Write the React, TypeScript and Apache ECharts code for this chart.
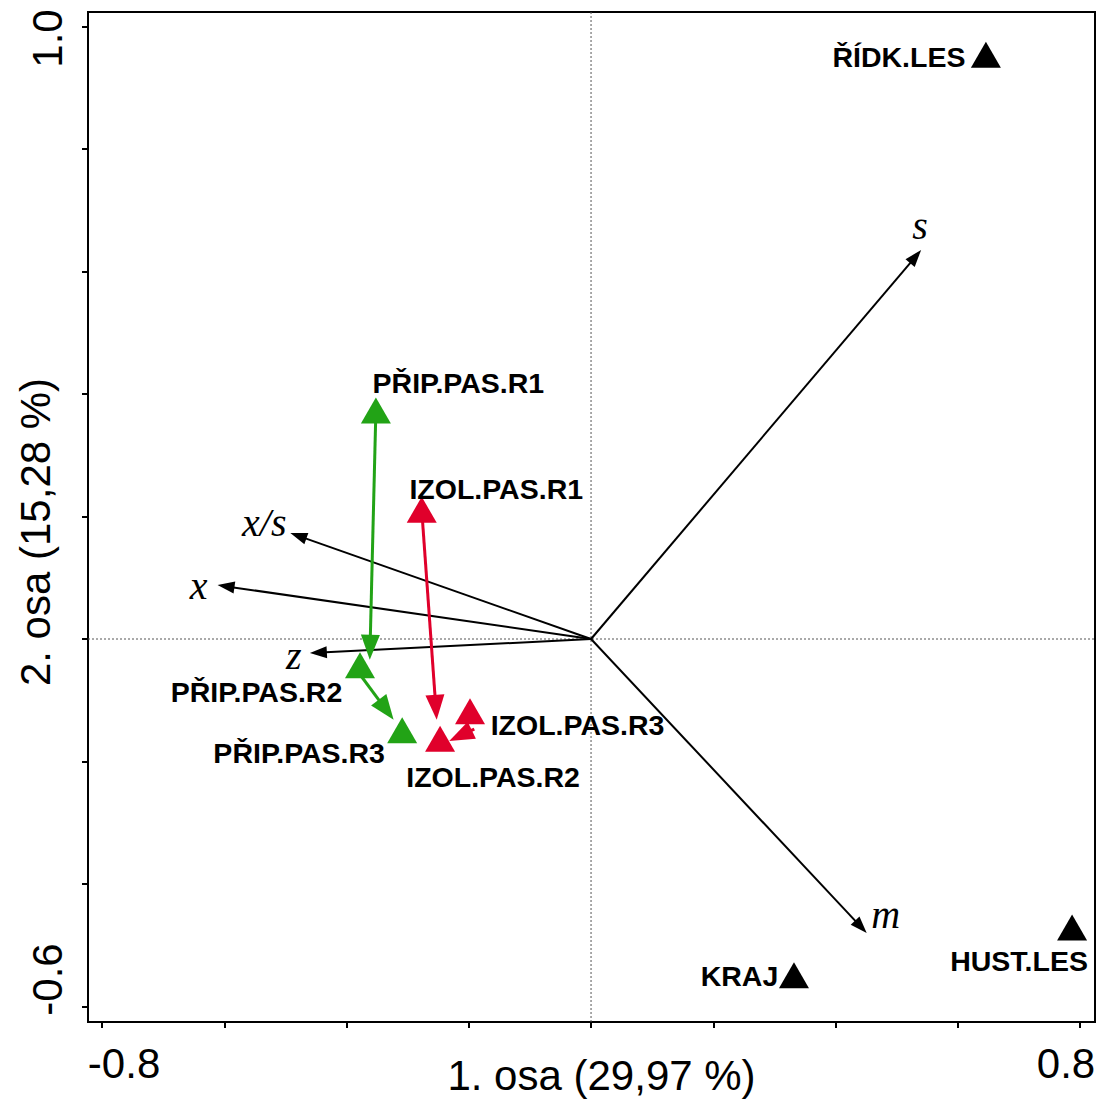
import { useEffect, useRef } from 'react';
import * as echarts from 'echarts';

// ---------- data ----------
const xTicks = [-0.8, -0.6, -0.4, -0.2, 0, 0.2, 0.4, 0.6, 0.8];
const yTicks = [-0.6, -0.4, -0.2, 0, 0.2, 0.4, 0.6, 0.8, 1.0];
const xTickLabels = [-0.8, 0.8];
const yTickLabels = [-0.6, 1.0];
const xTitle = '1. osa (29,97 %)';
const yTitle = '2. osa (15,28 %)';

const sampleNames = ['ŘÍDK.LES', 'HUST.LES', 'KRAJ', 'PŘIP.PAS.R1', 'PŘIP.PAS.R2', 'PŘIP.PAS.R3', 'IZOL.PAS.R1', 'IZOL.PAS.R2', 'IZOL.PAS.R3'];
const sampleX = [0.646, 0.787, 0.332, -0.352, -0.378, -0.309, -0.277, -0.247, -0.198];
const sampleY = [0.954, -0.471, -0.549, 0.373, -0.043, -0.149, 0.211, -0.163, -0.118];
const sampleGroup = ['hab', 'hab', 'hab', 'prip', 'prip', 'prip', 'izol', 'izol', 'izol'];

const envNames = ['s', 'm', 'x/s', 'x', 'z'];
const envX = [0.540, 0.451, -0.492, -0.611, -0.460];
const envY = [0.635, -0.480, 0.173, 0.088, -0.023];

// trajectory arrows (from -> to)
const pripFromX = [-0.352, -0.375];
const pripFromY = [0.373, -0.062];
const pripToX = [-0.362, -0.323];
const pripToY = [-0.034, -0.132];

const izolFromX = [-0.277, -0.191];
const izolFromY = [0.211, -0.147];
const izolToX = [-0.2525, -0.232];
const izolToY = [-0.132, -0.1665];

// ---------- styles / layout ----------
const X_MIN = -0.823;
const X_MAX = 0.8245;
const Y_MIN = -0.6253;
const Y_MAX = 1.0237;
const SANS = '"Liberation Sans", Arial, sans-serif';
const SERIF = '"Liberation Serif", "Times New Roman", serif';
const groupColors: Record<string, string> = { hab: '#000000', prip: '#22A316', izol: '#E0002B' };
const sampleLabelOffsets = [
  [-87, 2.5], [-53, 33.5], [-54.5, 0.5], [82.5, -27.5], [-103.5, 26.5], [-103, 22.5], [74.5, -20.5], [53, 38], [107.5, 14],
];
const envLabelOffsets = [[-1, -25], [19, -19], [-26, -11], [-19, 0.5], [-16, 2]];

function makeArrowRenderer(color: string, lineWidth: number, headLen: number, headHalf: number, labels?: string[], offsets?: number[][]) {
  return (params: any, api: any) => {
    const p0 = api.coord([api.value(0), api.value(1)]);
    const p1 = api.coord([api.value(2), api.value(3)]);
    const dx = p1[0] - p0[0];
    const dy = p1[1] - p0[1];
    const len = Math.hypot(dx, dy) || 1;
    const ux = dx / len;
    const uy = dy / len;
    const hl = Math.min(headLen, len);
    const bx = p1[0] - ux * hl;
    const by = p1[1] - uy * hl;
    const nx = -uy;
    const ny = ux;
    const children: any[] = [];
    if (len > hl + 0.5) {
      children.push({
        type: 'line',
        shape: { x1: p0[0], y1: p0[1], x2: bx + ux, y2: by + uy },
        style: { stroke: color, lineWidth },
      });
    }
    children.push({
      type: 'polygon',
      shape: { points: [[p1[0], p1[1]], [bx + nx * headHalf, by + ny * headHalf], [bx - nx * headHalf, by - ny * headHalf]] },
      style: { fill: color },
    });
    if (labels && offsets) {
      const i = params.dataIndex;
      children.push({
        type: 'text',
        x: p1[0] + offsets[i][0],
        y: p1[1] + offsets[i][1],
        style: {
          text: labels[i],
          fill: '#000',
          fontStyle: 'italic',
          fontSize: 40,
          fontFamily: SERIF,
          align: 'center',
          verticalAlign: 'middle',
        },
      });
    }
    return { type: 'group', children };
  };
}

function buildOption() {
  const envData = envNames.map((_, i) => [0, 0, envX[i], envY[i]]);
  const pripData = pripFromX.map((_, i) => [pripFromX[i], pripFromY[i], pripToX[i], pripToY[i]]);
  const izolData = izolFromX.map((_, i) => [izolFromX[i], izolFromY[i], izolToX[i], izolToY[i]]);
  const sampleData = sampleNames.map((name, i) => ({
    name,
    value: [sampleX[i], sampleY[i]],
    itemStyle: { color: groupColors[sampleGroup[i]], opacity: 1 },
    label: { offset: sampleLabelOffsets[i] },
  }));

  const tickLabelStyle = { fontSize: 42, fontFamily: SANS, color: '#000' };

  return {
    animation: false,
    backgroundColor: '#ffffff',
    grid: {
      left: 88,
      right: 6,
      top: 12,
      bottom: 78,
      show: true,
      borderColor: '#000',
      borderWidth: 2,
      containLabel: false,
      outerBoundsMode: 'none',
    },
    xAxis: {
      type: 'value',
      min: X_MIN,
      max: X_MAX,
      axisLine: { show: true, onZero: false, lineStyle: { color: '#000', width: 2 } },
      axisTick: { show: true, customValues: xTicks, length: 6, lineStyle: { color: '#000', width: 2 } },
      axisLabel: {
        show: true,
        customValues: xTickLabels,
        margin: 20,
        ...tickLabelStyle,
        formatter: (v: number) => (v < 0 ? `{lo|${v.toFixed(1)}}` : `{hi|${v.toFixed(1)}}`),
        rich: {
          lo: { ...tickLabelStyle, padding: [0, 0, 0, 44] },
          hi: { ...tickLabelStyle, padding: [0, 28, 0, 0] },
        },
      },
      splitLine: { show: false },
      name: xTitle,
      nameLocation: 'middle',
      nameGap: 32,
      nameMoveOverlap: false,
      nameTextStyle: { fontSize: 42, fontFamily: SANS, color: '#000', padding: [0, 0, 0, 20] },
    },
    yAxis: {
      type: 'value',
      min: Y_MIN,
      max: Y_MAX,
      axisLine: { show: true, onZero: false, lineStyle: { color: '#000', width: 2 } },
      axisTick: { show: true, customValues: yTicks, length: 6, lineStyle: { color: '#000', width: 2 } },
      axisLabel: {
        show: true,
        customValues: yTickLabels,
        rotate: 90,
        margin: 20,
        ...tickLabelStyle,
        formatter: (v: number) => (v < 0 ? `{lo|${v.toFixed(1)}}` : `{hi|${v.toFixed(1)}}`),
        rich: {
          lo: { ...tickLabelStyle, padding: [0, 0, 0, 54] },
          hi: { ...tickLabelStyle, padding: [0, 24, 0, 0] },
        },
      },
      splitLine: { show: false },
      name: yTitle,
      nameLocation: 'middle',
      nameGap: 32,
      nameMoveOverlap: false,
      nameTextStyle: { fontSize: 42, fontFamily: SANS, color: '#000', padding: [0, 30, 0, 0] },
    },
    series: [
      {
        type: 'custom',
        name: 'origin',
        z: 1,
        silent: true,
        data: [[0, 0]],
        renderItem: (params: any, api: any) => {
          const cs = params.coordSys;
          const o = api.coord([api.value(0), api.value(1)]);
          const st = { stroke: '#555', lineWidth: 1, lineDash: [2, 2] };
          return {
            type: 'group',
            children: [
              { type: 'line', shape: { x1: o[0], y1: cs.y, x2: o[0], y2: cs.y + cs.height }, style: st },
              { type: 'line', shape: { x1: cs.x, y1: o[1], x2: cs.x + cs.width, y2: o[1] }, style: st },
            ],
          };
        },
      },
      {
        type: 'custom',
        name: 'env',
        z: 3,
        silent: true,
        data: envData,
        encode: { x: [0, 2], y: [1, 3] },
        renderItem: makeArrowRenderer('#000', 2, 17, 6, envNames, envLabelOffsets),
      },
      {
        type: 'custom',
        name: 'prip',
        z: 4,
        silent: true,
        data: pripData,
        encode: { x: [0, 2], y: [1, 3] },
        renderItem: makeArrowRenderer(groupColors.prip, 3, 25, 9.5),
      },
      {
        type: 'custom',
        name: 'izol',
        z: 4,
        silent: true,
        data: izolData,
        encode: { x: [0, 2], y: [1, 3] },
        renderItem: makeArrowRenderer(groupColors.izol, 3, 25, 9.5),
      },
      {
        type: 'scatter',
        name: 'samples',
        z: 5,
        silent: true,
        symbol: 'triangle',
        symbolSize: [30, 26],
        itemStyle: { opacity: 1 },
        data: sampleData,
        label: {
          show: true,
          position: 'inside',
          formatter: '{b}',
          color: '#000',
          opacity: 1,
          fontSize: 28.5,
          fontWeight: 'bold',
          fontFamily: SANS,
          align: 'center',
          verticalAlign: 'middle',
          textBorderWidth: 0,
        },
      },
    ],
  };
}

export default function App() {
  const ref = useRef<HTMLDivElement>(null);
  useEffect(() => {
    if (!ref.current) return;
    const chart = echarts.init(ref.current, null, { renderer: 'svg' });
    chart.setOption(buildOption() as any);
    return () => chart.dispose();
  }, []);
  return (
    <div
      ref={ref}
      style={{ position: 'fixed', left: 0, top: 0, width: 1101, height: 1100, background: '#fff' }}
    />
  );
}
